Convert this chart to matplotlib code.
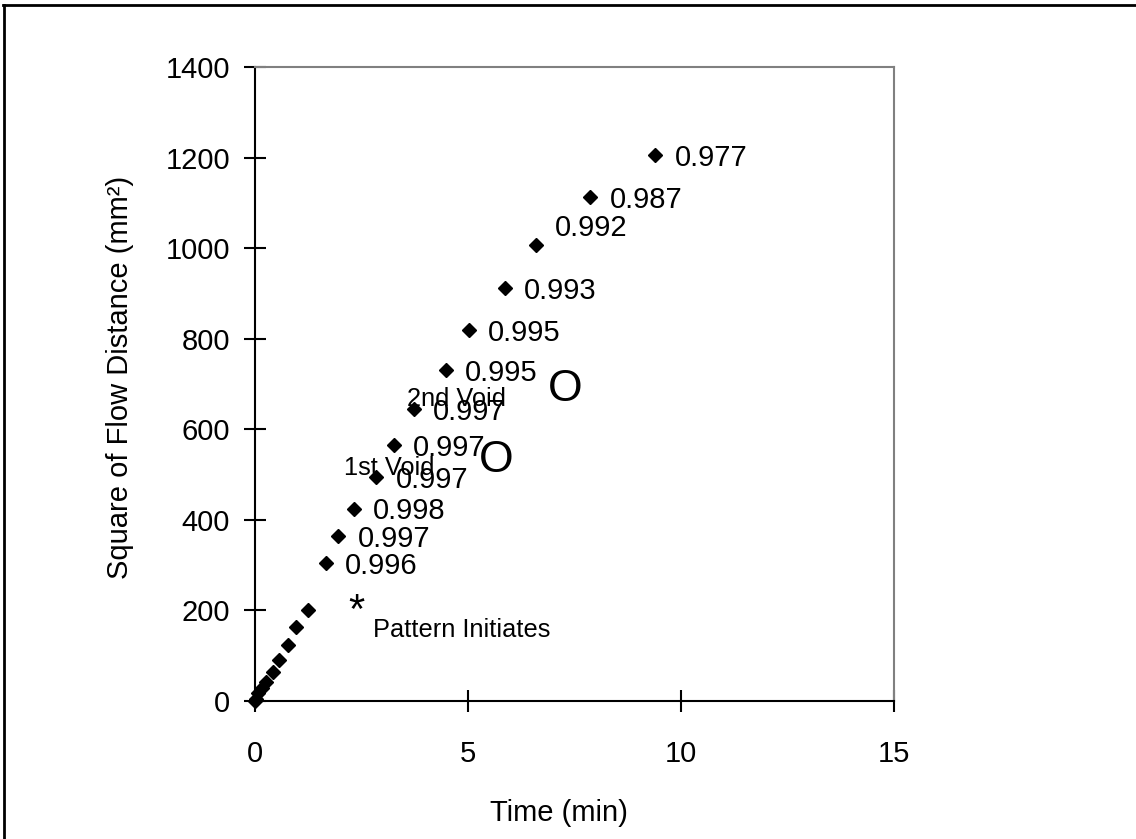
#!/usr/bin/env python3
"""Square of flow distance against time, with R^2 labels on each fitted point."""

import matplotlib

matplotlib.use("Agg")

import matplotlib.pyplot as plt
from matplotlib.lines import Line2D

plt.rcParams["font.family"] = ["Liberation Sans", "DejaVu Sans"]

# measured flow front: time (min) and squared distance (mm^2)
time_min = [0.0, 0.02, 0.08, 0.16, 0.25, 0.43, 0.56, 0.78, 0.96, 1.25,
            1.66, 1.95, 2.32, 2.84, 3.26, 3.73, 4.48, 5.02, 5.86, 6.59,
            7.87, 9.40]
dist_sq = [0, 4, 17, 28, 43, 65, 90, 124, 164, 202,
           305, 364, 425, 495, 565, 644, 731, 819, 911, 1007,
           1113, 1205]

# R^2 shown next to the last points (from t = 1.66 min on)
r2_labels = ["0.996", "0.997", "0.998", "0.997", "0.997", "0.997",
             "0.995", "0.995", "0.993", "0.992", "0.987", "0.977"]

x_ticks = [0, 5, 10, 15]
y_ticks = [0, 200, 400, 600, 800, 1000, 1200, 1400]

FS = 21
GREY = "#808080"

fig = plt.figure(figsize=(11.36, 8.39), dpi=100)
ax = fig.add_axes([0.2245, 0.1645, 0.5625, 0.7556])

ax.plot(time_min, dist_sq, linestyle="none", marker="D", markersize=7,
        color="black", clip_on=False, zorder=3)

first = len(time_min) - len(r2_labels)
for i, txt in enumerate(r2_labels):
    k = first + i
    dy = 12 if txt == "0.992" else -2
    ax.annotate(txt, (time_min[k], dist_sq[k]), xytext=(14, dy),
                textcoords="offset points", fontsize=FS, va="center",
                ha="left")

# event annotations
ax.text(2.09, 514, "1st Void", fontsize=18.3, va="center", ha="left")
ax.text(3.57, 666, "2nd Void", fontsize=18.3, va="center", ha="left")
ax.text(5.66, 532, "O", fontsize=32, va="center", ha="center")
ax.text(7.29, 687, "O", fontsize=32, va="center", ha="center")
ax.text(2.38, 196, "*", fontsize=30, va="center", ha="center")
ax.text(2.77, 157, "Pattern Initiates", fontsize=18.3, va="center", ha="left")

ax.set_xlim(0, 15)
ax.set_ylim(0, 1400)
ax.set_xticks(x_ticks)
ax.set_yticks(y_ticks)
ax.tick_params(direction="inout", length=16, width=1.5, labelsize=FS,
               color="black")
ax.tick_params(axis="x", pad=20)
ax.tick_params(axis="y", pad=10)

for side in ("left", "bottom"):
    ax.spines[side].set_linewidth(1.5)
    ax.spines[side].set_color("black")
for side in ("right", "top"):
    ax.spines[side].set_linewidth(1.5)
    ax.spines[side].set_color(GREY)

ax.set_xlabel("Time (min)", fontsize=FS)
ax.set_ylabel("Square of Flow Distance (mm²)", fontsize=FS)
ax.xaxis.set_label_coords(0.475, -0.155)
ax.yaxis.set_label_coords(-0.19, 0.51)

# frame lines along the top and left of the figure
fig.add_artist(Line2D([0.003, 1.0], [0.9945, 0.9945], color="black",
                      linewidth=2, transform=fig.transFigure))
fig.add_artist(Line2D([0.0033, 0.0033], [0.0, 0.9945], color="black",
                      linewidth=2, transform=fig.transFigure))

fig.savefig("out.png", dpi=100)
